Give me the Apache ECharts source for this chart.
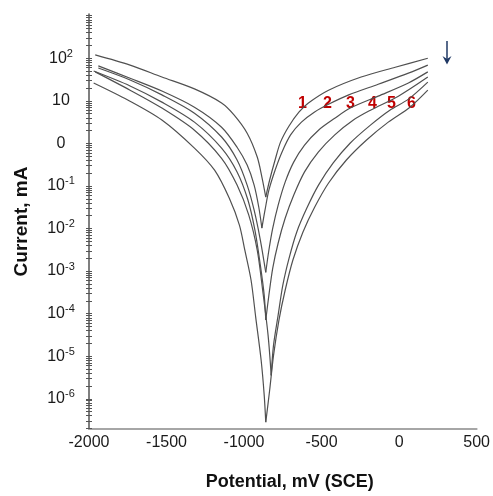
<!DOCTYPE html>
<html>
<head>
<meta charset="utf-8">
<script src="https://cdn.jsdelivr.net/npm/echarts@6.0.0/dist/echarts.min.js"></script>
<style>
  html, body { margin: 0; padding: 0; background: #ffffff; }
  #chart { width: 493px; height: 496px; }
</style>
</head>
<body>
<div id="chart"></div>
<script>
// Potentiodynamic polarization curves 1-6.
// Potential in mV (SCE); current given as log10 of current in mA.
const potential1 = [-1960, -1735, -1530, -1320, -1145, -1065, -980, -915, -885, -860, -835, -800, -765, -710, -645, -585, -455, -245, -25, 185];
const logI1      = [2.08, 1.84, 1.56, 1.28, 0.95, 0.67, 0.24, -0.32, -0.79, -1.26, -0.86, -0.39, 0.03, 0.41, 0.74, 0.95, 1.25, 1.56, 1.79, 2.00];

const potential2 = [-1940, -1735, -1530, -1320, -1145, -1045, -980, -935, -905, -885, -865, -840, -800, -755, -700, -630, -545, -455, -325, -135, 60, 185];
const logI2      = [1.82, 1.53, 1.23, 0.85, 0.38, -0.09, -0.51, -0.98, -1.50, -1.99, -1.57, -1.10, -0.63, -0.20, 0.20, 0.50, 0.74, 0.92, 1.14, 1.39, 1.65, 1.84];

const potential3 = [-1940, -1735, -1530, -1320, -1145, -1045, -980, -935, -895, -860, -840, -815, -780, -735, -680, -610, -520, -415, -315, -135, 60, 185];
const logI3      = [1.77, 1.49, 1.14, 0.71, 0.15, -0.39, -0.98, -1.57, -2.27, -3.03, -2.51, -1.99, -1.45, -0.91, -0.44, -0.04, 0.31, 0.59, 0.83, 1.11, 1.42, 1.68];

const potential4 = [-1970, -1735, -1530, -1320, -1145, -1045, -975, -930, -895, -870, -860, -840, -815, -780, -735, -680, -610, -520, -415, -295, -185, -5, 185];
const logI4      = [1.70, 1.35, 0.97, 0.50, -0.11, -0.67, -1.33, -2.04, -2.86, -3.57, -4.15, -3.57, -2.93, -2.34, -1.76, -1.22, -0.67, -0.20, 0.20, 0.55, 0.78, 1.11, 1.56];

const potential5 = [-1960, -1735, -1530, -1320, -1145, -1045, -970, -915, -880, -845, -825, -810, -780, -750, -710, -660, -595, -520, -425, -315, -185, -60, 60, 185];
const logI5      = [1.68, 1.25, 0.83, 0.31, -0.35, -0.98, -1.68, -2.51, -3.45, -4.51, -5.45, -4.74, -4.03, -3.33, -2.70, -2.08, -1.52, -0.98, -0.46, 0.01, 0.43, 0.78, 1.04, 1.44];

const potential6 = [-1970, -1750, -1530, -1320, -1190, -1095, -1030, -995, -955, -925, -890, -870, -860, -835, -810, -775, -735, -685, -620, -545, -455, -340, -210, -70, 70, 185];
const logI6      = [1.42, 1.02, 0.55, -0.11, -0.63, -1.29, -1.92, -2.51, -3.21, -4.08, -5.09, -5.92, -6.55, -5.80, -4.98, -4.15, -3.45, -2.74, -2.08, -1.50, -0.93, -0.39, 0.08, 0.50, 0.85, 1.25];

const curveNames = ['1', '2', '3', '4', '5', '6'];

// Axis ticks
const xTicks = [-2000, -1500, -1000, -500, 0, 500];
const yDecades = [-6, -5, -4, -3, -2, -1, 0, 1, 2];

const X_MIN = -2000, X_MAX = 500;
const Y_MIN = -6.71, Y_MAX = 3.04;

// Log-scale minor tick positions (1..9 within each decade)
const minorTicks = [];
for (let d = -7; d <= 3; d++) {
  for (let k = 1; k <= 9; k++) {
    const v = d + Math.log10(k);
    if (v >= Y_MIN && v <= Y_MAX) minorTicks.push(+v.toFixed(4));
  }
}

const curves = [
  { name: curveNames[0], e: potential1, l: logI1 },
  { name: curveNames[1], e: potential2, l: logI2 },
  { name: curveNames[2], e: potential3, l: logI3 },
  { name: curveNames[3], e: potential4, l: logI4 },
  { name: curveNames[4], e: potential5, l: logI5 },
  { name: curveNames[5], e: potential6, l: logI6 }
];

// Each curve is drawn as a cathodic and an anodic branch meeting at the corrosion potential
const series = [];
curves.forEach(function (c) {
  const pts = c.e.map(function (e, i) { return [e, c.l[i]]; });
  let m = 0;
  pts.forEach(function (p, i) { if (p[1] < pts[m][1]) m = i; });
  [pts.slice(0, m + 1), pts.slice(m)].forEach(function (seg) {
    series.push({
      type: 'line',
      name: c.name,
      data: seg,
      smooth: 0.3,
      symbol: 'none',
      silent: true,
      lineStyle: { color: '#505050', width: 1.2 }
    });
  });
});

function decadeLabel(v) {
  const n = Math.round(v);
  if (n === 0) return '{b|0}';
  if (n === 1) return '{b|10}';
  return '{b|10}{s|' + n + '}';
}

const chart = echarts.init(document.getElementById('chart'), null, { renderer: 'canvas' });

const tickStyle = { color: '#555', width: 1 };

const option = {
  animation: false,
  backgroundColor: '#ffffff',
  grid: { left: 89, right: 14, top: 14, bottom: 67 },
  xAxis: {
    type: 'value',
    min: X_MIN,
    max: X_MAX,
    interval: 500,
    name: 'Potential, mV (SCE)',
    nameLocation: 'middle',
    nameGap: 44,
    nameTextStyle: { fontFamily: 'Liberation Sans', fontSize: 18, fontWeight: 'bold', color: '#111', padding: [0, 0, 0, 14] },
    axisLine: { show: true, onZero: false, lineStyle: { color: '#a6a6a6', width: 2 } },
    axisTick: { show: false },
    splitLine: { show: false },
    axisLabel: {
      margin: 6,
      fontFamily: 'Liberation Sans',
      fontSize: 16,
      color: '#1a1a1a',
      customValues: xTicks,
      formatter: function (v) { return String(v); }
    }
  },
  yAxis: [
    {
      type: 'value',
      min: Y_MIN,
      max: Y_MAX,
      name: 'Current, mA',
      nameLocation: 'middle',
      nameGap: 58,
      nameRotate: 90,
      nameTextStyle: { fontFamily: 'Liberation Sans', fontSize: 19, fontWeight: 'bold', color: '#111' },
      axisLine: { show: true, onZero: false, lineStyle: { color: '#555', width: 1.5 } },
      axisTick: { show: true, length: 3, customValues: minorTicks, lineStyle: tickStyle },
      splitLine: { show: false },
      axisLabel: {
        margin: 28,
        align: 'center',
        customValues: yDecades,
        formatter: decadeLabel,
        rich: {
          b: { fontFamily: 'Liberation Sans', fontSize: 16, color: '#1a1a1a', lineHeight: 20 },
          s: { fontFamily: 'Liberation Sans', fontSize: 11, color: '#1a1a1a', lineHeight: 12, verticalAlign: 'top' }
        }
      }
    },
    {
      type: 'value',
      min: Y_MIN,
      max: Y_MAX,
      position: 'left',
      axisLine: { show: false, onZero: false },
      axisTick: { show: true, inside: true, length: 3, customValues: minorTicks, lineStyle: tickStyle },
      axisLabel: { show: false },
      splitLine: { show: false }
    }
  ],
  series: series
};

chart.setOption(option);

// Curve numbers, sweep-direction arrow and the axis break mark
const tagColor = '#c00000';
const tagLeft = [302, 327, 350, 372, 391, 411];
const graphics = curveNames.map(function (t, i) {
  return {
    type: 'text',
    left: tagLeft[i] - 4,
    top: 96,
    style: { text: t, fill: tagColor, font: 'bold 16px "Liberation Sans"' }
  };
});
graphics.push({ type: 'rect', shape: { x: 84, y: 61, width: 10, height: 5 }, style: { fill: '#ffffff' } });
graphics.push({ type: 'line', shape: { x1: 447, y1: 41, x2: 447, y2: 62 }, style: { stroke: '#1f3864', lineWidth: 1.5 } });
graphics.push({ type: 'polygon', shape: { points: [[442.5, 56], [447, 64.5], [451.5, 56], [447, 59]] }, style: { fill: '#1f3864' } });

chart.setOption({ graphic: graphics });
</script>
</body>
</html>
